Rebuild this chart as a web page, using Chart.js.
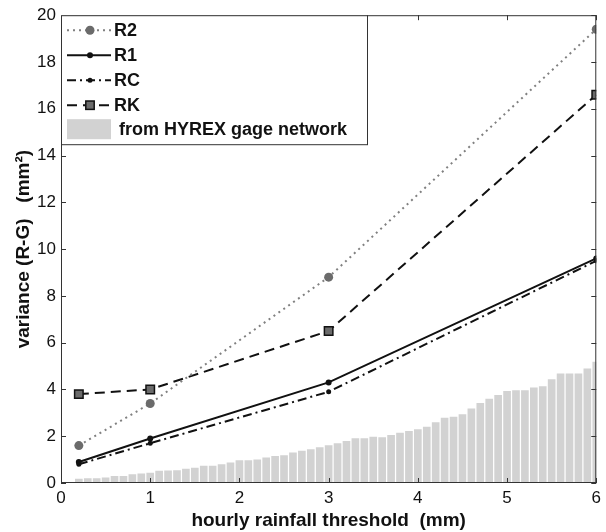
<!DOCTYPE html>
<html>
<head>
<meta charset="utf-8">
<script src="https://cdn.jsdelivr.net/npm/chart.js@4.4.1/dist/chart.umd.min.js"></script>
<style>
  html, body { margin: 0; padding: 0; background: #fff; }
  #wrap { width: 606px; height: 532px; }
</style>
</head>
<body>
<div id="wrap"><canvas id="chart" width="606" height="532"></canvas></div>
<script>
// thresholds of the four methods (mm)
const thresholds = [0.2, 1, 3, 6];
const r2 = [1.6, 3.4, 8.8, 19.4];
const r1 = [0.9, 1.9, 4.3, 9.6];
const rc = [0.8, 1.7, 3.9, 9.5];
const rk = [3.8, 4.0, 6.5, 16.6];

// HYREX gage network bars, one per 0.1 mm from 0.2 to 6.0
const gageX = [0.2, 0.3, 0.4, 0.5, 0.6, 0.7, 0.8, 0.9, 1.0, 1.1,
  1.2, 1.3, 1.4, 1.5, 1.6, 1.7, 1.8, 1.9, 2.0, 2.1,
  2.2, 2.3, 2.4, 2.5, 2.6, 2.7, 2.8, 2.9, 3.0, 3.1,
  3.2, 3.3, 3.4, 3.5, 3.6, 3.7, 3.8, 3.9, 4.0, 4.1,
  4.2, 4.3, 4.4, 4.5, 4.6, 4.7, 4.8, 4.9, 5.0, 5.1,
  5.2, 5.3, 5.4, 5.5, 5.6, 5.7, 5.8, 5.9, 6.0];
const gageVar = [0.18, 0.2, 0.2, 0.24, 0.3, 0.3, 0.37, 0.41, 0.44, 0.52,
  0.53, 0.55, 0.61, 0.65, 0.74, 0.74, 0.8, 0.88, 0.97, 0.97,
  1.0, 1.09, 1.15, 1.19, 1.3, 1.38, 1.44, 1.53, 1.61, 1.7,
  1.8, 1.91, 1.91, 1.98, 1.96, 2.05, 2.15, 2.22, 2.3, 2.41,
  2.6, 2.79, 2.83, 2.94, 3.18, 3.42, 3.6, 3.76, 3.93, 3.97,
  3.97, 4.08, 4.14, 4.44, 4.68, 4.68, 4.68, 4.9, 5.18];

const xTicks = [0, 1, 2, 3, 4, 5, 6];
const yTicks = [0, 2, 4, 6, 8, 10, 12, 14, 16, 18, 20];

const FONT = '"Liberation Sans", Arial, sans-serif';
const pts = (xs, ys) => xs.map((x, i) => ({ x: x, y: ys[i] }));

// box around plot + ticks pointing inward (matlab style)
const boxPlugin = {
    id: 'box',
    afterDatasetsDraw(chart) {
        const ctx = chart.ctx;
        const a = chart.chartArea;
        const xs = chart.scales.x, ys = chart.scales.y;
        ctx.save();
        ctx.strokeStyle = '#333';
        ctx.lineWidth = 1;
        ctx.strokeRect(a.left + 0.5, a.top + 0.5, a.right - a.left - 1, a.bottom - a.top - 1);
        ctx.beginPath();
        yTicks.forEach(v => {
            const p = Math.round(ys.getPixelForValue(v)) + 0.5;
            ctx.moveTo(a.left, p); ctx.lineTo(a.left + 5, p);
            ctx.moveTo(a.right, p); ctx.lineTo(a.right - 5, p);
        });
        xTicks.forEach(v => {
            const p = Math.round(xs.getPixelForValue(v)) + 0.5;
            ctx.moveTo(p, a.bottom); ctx.lineTo(p, a.bottom - 5);
            ctx.moveTo(p, a.top); ctx.lineTo(p, a.top + 5);
        });
        ctx.stroke();
        ctx.restore();
    }
};

// legend drawn by hand so line samples carry their dashes and markers
const legendPlugin = {
    id: 'boxLegend',
    afterDraw(chart) {
        const ctx = chart.ctx;
        const a = chart.chartArea;
        const x0 = a.left, y0 = a.top;
        ctx.save();
        ctx.fillStyle = '#fff';
        ctx.fillRect(x0, y0, 306, 129);
        ctx.strokeStyle = '#333';
        ctx.lineWidth = 1;
        ctx.strokeRect(x0 + 0.5, y0 + 0.5, 306, 129);
        ctx.font = 'bold 18px ' + FONT;
        ctx.textBaseline = 'middle';
        const rows = [15, 40, 65, 90];
        chart.data.datasets.forEach((ds, i) => {
            if (ds.type !== 'line') return;
            const y = y0 + rows[i];
            ctx.strokeStyle = ds.borderColor;
            ctx.lineWidth = ds.borderWidth;
            ctx.setLineDash(ds.borderDash || []);
            ctx.beginPath();
            ctx.moveTo(x0 + 6, y); ctx.lineTo(x0 + 50, y);
            ctx.stroke();
            ctx.setLineDash([]);
            const mx = x0 + 29;
            ctx.fillStyle = ds.pointBackgroundColor;
            ctx.strokeStyle = ds.pointBorderColor;
            ctx.lineWidth = ds.pointBorderWidth;
            if (ds.pointStyle === 'rect') {
                const r = ds.pointRadius;
                ctx.fillRect(mx - r * 0.7, y - r * 0.7, r * 1.4, r * 1.4);
                ctx.strokeRect(mx - r * 0.7, y - r * 0.7, r * 1.4, r * 1.4);
            } else {
                ctx.beginPath();
                ctx.arc(mx, y, ds.pointRadius, 0, Math.PI * 2);
                ctx.fill();
            }
            ctx.fillStyle = '#111';
            ctx.fillText(ds.label, x0 + 53, y + 1);
        });
        const bars = chart.data.datasets[4];
        ctx.fillStyle = bars.backgroundColor;
        ctx.fillRect(x0 + 6, y0 + 104, 44, 20);
        ctx.fillStyle = '#111';
        ctx.fillText(bars.label, x0 + 58, y0 + 115);
        ctx.restore();
    }
};

const ctx = document.getElementById('chart').getContext('2d');

new Chart(ctx, {
    type: 'bar',
    data: {
        datasets: [
            {
                type: 'line', label: 'R2', data: pts(thresholds, r2),
                borderColor: '#808080', borderWidth: 2, borderDash: [2, 4],
                pointRadius: 4.5, pointBackgroundColor: '#6b6b6b', pointBorderColor: '#6b6b6b',
                pointBorderWidth: 0, pointStyle: 'circle', order: 1
            },
            {
                type: 'line', label: 'R1', data: pts(thresholds, r1),
                borderColor: '#111', borderWidth: 2,
                pointRadius: 3, pointBackgroundColor: '#111', pointBorderColor: '#111',
                pointBorderWidth: 0, pointStyle: 'circle', order: 1
            },
            {
                type: 'line', label: 'RC', data: pts(thresholds, rc),
                borderColor: '#111', borderWidth: 2, borderDash: [9, 4, 2, 4],
                pointRadius: 2.5, pointBackgroundColor: '#111', pointBorderColor: '#111',
                pointBorderWidth: 0, pointStyle: 'circle', order: 1
            },
            {
                type: 'line', label: 'RK', data: pts(thresholds, rk),
                borderColor: '#111', borderWidth: 2, borderDash: [10, 6],
                pointRadius: 6, pointBackgroundColor: '#6b6b6b', pointBorderColor: '#111',
                pointBorderWidth: 1.5, pointStyle: 'rect', order: 1
            },
            {
                type: 'bar', label: 'from HYREX gage network', data: pts(gageX, gageVar),
                backgroundColor: '#d2d2d2', borderWidth: 0,
                barPercentage: 0.86, categoryPercentage: 1, order: 10
            }
        ]
    },
    options: {
        responsive: false,
        animation: false,
        layout: { padding: { left: 0, right: 6, top: 13, bottom: 0 } },
        plugins: { legend: { display: false }, tooltip: { enabled: false } },
        scales: {
            x: {
                type: 'linear', min: 0, max: 6, offset: false,
                grid: { display: false, drawTicks: false },
                border: { display: false },
                ticks: {
                    stepSize: 1, padding: 5, color: '#111',
                    font: { family: FONT, size: 17 }
                },
                title: {
                    display: true, text: 'hourly rainfall threshold  (mm)', color: '#111',
                    font: { family: FONT, size: 19, weight: 'bold' },
                    padding: { top: 1, bottom: 0 }
                },
                afterFit(scale) { scale.height = 49; }
            },
            y: {
                min: 0, max: 20,
                grid: { display: false, drawTicks: false },
                border: { display: false },
                ticks: {
                    stepSize: 2, padding: 5, color: '#111',
                    font: { family: FONT, size: 17 }
                },
                title: {
                    display: true, text: 'variance (R-G)   (mm²)', color: '#111',
                    font: { family: FONT, size: 19, weight: 'bold' },
                    padding: { top: 12, bottom: 4 }
                },
                afterFit(scale) { scale.width = 61; }
            }
        }
    },
    plugins: [boxPlugin, legendPlugin]
});
</script>
</body>
</html>
